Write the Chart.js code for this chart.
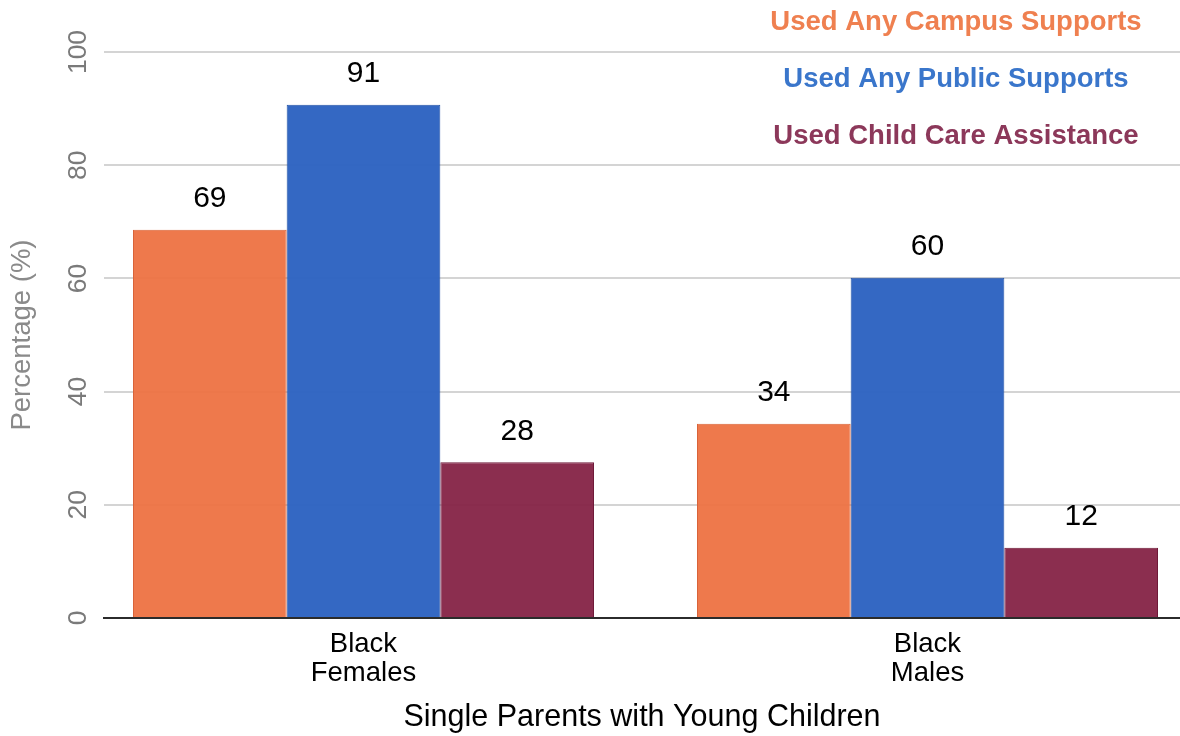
<!DOCTYPE html>
<html>
<head>
<meta charset="utf-8">
<title>Single Parents with Young Children</title>
<script src="https://cdn.jsdelivr.net/npm/chart.js@4.4.1/dist/chart.umd.min.js"></script>
<style>
  html, body { margin: 0; padding: 0; background: #fff; }
  #wrap { width: 1180px; height: 736px; }
</style>
</head>
<body>
<div id="wrap"><canvas id="chart" width="1180" height="736"></canvas></div>
<script>
// values
const categories = [['Black', 'Females'], ['Black', 'Males']];
const seriesNames = ['Used Any Campus Supports', 'Used Any Public Supports', 'Used Child Care Assistance'];
const campusSupports = [68.6, 34.3];
const publicSupports = [90.7, 60.1];
const childCare = [27.5, 12.4];
const yTicks = [0, 20, 40, 60, 80, 100];

const fillColors = ['rgba(237,114,66,0.95)', 'rgba(44,98,193,0.96)', 'rgba(133,35,70,0.95)'];
const edgeColors = ['#d9643a', '#2656a8', '#6f1a39'];
const legendColors = ['#ef8050', '#3a76cb', '#8c385a'];

const toPoints = (vals) => vals.map((v, i) => ({x: i, y: v}));

// value labels above the bars
const barLabels = {
  id: 'barLabels',
  afterDatasetsDraw(chart) {
    const ctx = chart.ctx;
    ctx.save();
    ctx.font = '30px "Liberation Sans", Arial, sans-serif';
    ctx.fillStyle = '#000';
    ctx.textAlign = 'center';
    ctx.textBaseline = 'middle';
    chart.data.datasets.forEach((ds, di) => {
      chart.getDatasetMeta(di).data.forEach((bar, i) => {
        ctx.fillText(String(Math.round(ds.data[i].y)), bar.x, bar.y - 31);
      });
    });
    ctx.restore();
  }
};

// plain coloured-text legend in the top right corner
const textLegend = {
  id: 'textLegend',
  afterDraw(chart) {
    const ctx = chart.ctx;
    const x = chart.chartArea.right - 224;
    ctx.save();
    ctx.font = 'bold 27.5px "Liberation Sans", Arial, sans-serif';
    ctx.textAlign = 'center';
    ctx.textBaseline = 'middle';
    chart.data.datasets.forEach((ds, i) => {
      ctx.fillStyle = legendColors[i];
      ctx.fillText(ds.label, x, 22 + i * 57);
    });
    ctx.restore();
  }
};

const ctx = document.getElementById('chart').getContext('2d');
new Chart(ctx, {
  type: 'bar',
  data: {
    datasets: [campusSupports, publicSupports, childCare].map((vals, i) => ({
      label: seriesNames[i],
      data: toPoints(vals),
      backgroundColor: fillColors[i],
      borderColor: edgeColors[i],
      borderWidth: 1,
      categoryPercentage: 0.8174,
      barPercentage: 1
    }))
  },
  options: {
    responsive: false,
    animation: false,
    devicePixelRatio: 1,
    layout: {padding: {top: 52, right: 0, bottom: 0, left: 0}},
    plugins: {
      legend: {display: false},
      tooltip: {enabled: false}
    },
    scales: {
      x: {
        type: 'linear',
        offset: false,
        min: -0.4601,
        max: 1.4477,
        grid: {display: false, drawTicks: false, offset: false},
        border: {display: true, color: '#2b2b2b', width: 2},
        afterBuildTicks: (axis) => { axis.ticks = categories.map((c, i) => ({value: i})); },
        afterFit: (axis) => { axis.height = 118; },
        ticks: {
          padding: 12,
          maxRotation: 0,
          minRotation: 0,
          color: '#000',
          font: {family: '"Liberation Sans", Arial, sans-serif', size: 27.5, lineHeight: 1.05},
          callback: (v) => categories[v]
        },
        title: {
          display: true,
          text: 'Single Parents with Young Children',
          color: '#000',
          font: {family: '"Liberation Sans", Arial, sans-serif', size: 30.5},
          padding: {top: 0, bottom: 0}
        }
      },
      y: {
        min: 0,
        max: 100,
        afterBuildTicks: (axis) => { axis.ticks = yTicks.map((v) => ({value: v})); },
        afterFit: (axis) => { axis.width = 104; },
        grid: {color: '#d4d4d4', lineWidth: 2, drawTicks: false},
        border: {display: false},
        ticks: {
          padding: 3,
          minRotation: 90,
          maxRotation: 90,
          crossAlign: 'center',
          color: '#7a7a7a',
          font: {family: '"Liberation Sans", Arial, sans-serif', size: 26.5}
        },
        title: {
          display: true,
          text: 'Percentage (%)',
          color: '#8a8a8a',
          font: {family: '"Liberation Sans", Arial, sans-serif', size: 27.5},
          padding: {top: 6, bottom: 0}
        }
      }
    }
  },
  plugins: [barLabels, textLegend]
});
</script>
</body>
</html>
